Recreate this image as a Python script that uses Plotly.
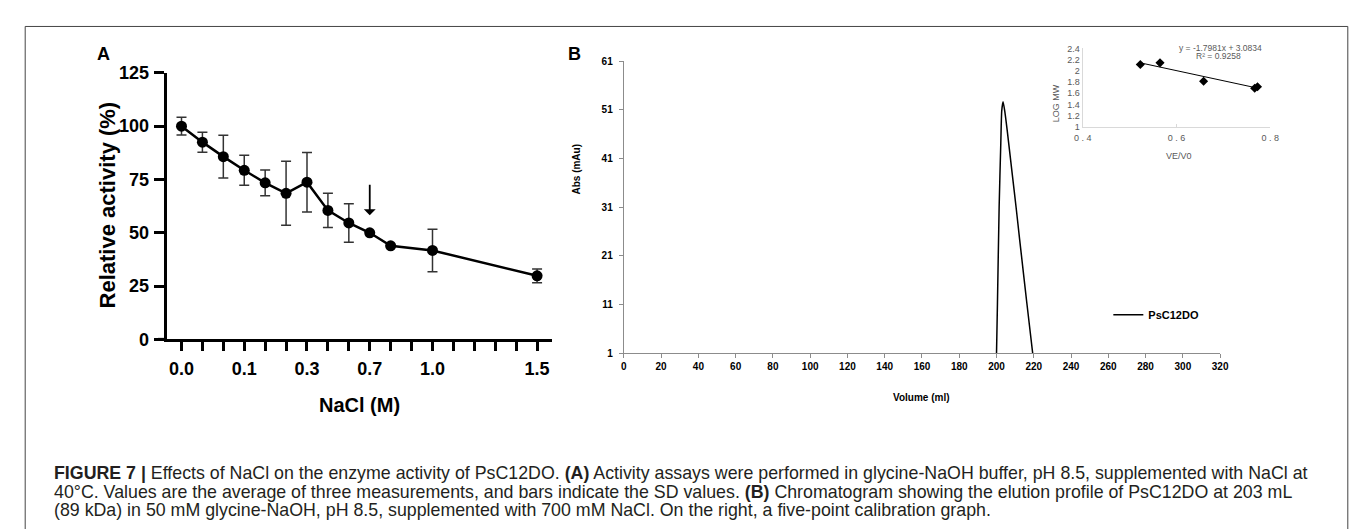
import plotly.graph_objects as go

W, H = 1357, 529

# ---------------- Panel A data ----------------
a_positions = [0, 1, 2, 3, 4, 5, 6, 7, 8, 9, 10, 12, 17]
a_activity = [100, 92.5, 85.7, 79.3, 73.4, 68.5, 73.7, 60.5, 54.6, 50.0, 43.9, 41.7, 29.8]
a_sd = [4.2, 4.7, 10.0, 7.0, 6.0, 15.0, 14.0, 8.0, 9.0, 0.0, 0.0, 10.0, 3.2]
a_tick_positions = list(range(18))
a_tick_labels = ["0.0", "", "", "0.1", "", "", "0.3", "", "", "0.7", "", "", "1.0", "", "", "", "", "1.5"]
a_y_ticks = [0, 25, 50, 75, 100, 125]
a_arrow_pos = 9
a_arrow_from, a_arrow_to = 73.2, 58.2

# ---------------- Panel B data (chromatogram) ----------------
b_volume = [200.0, 200.5, 201.4, 202.3, 202.8, 203.5, 204.4, 205.7, 208.5, 210.5, 212.4, 216.3, 219.4]
b_abs = [1.0, 11.2, 31.0, 44.2, 50.8, 52.7, 50.8, 46.9, 37.6, 31.0, 24.4, 11.2, 1.0]
b_x_ticks = list(range(0, 321, 20))
b_y_ticks = [1, 11, 21, 31, 41, 51, 61]

# ---------------- Inset data (calibration) ----------------
c_ve_v0 = [0.523, 0.565, 0.658, 0.767, 0.773]
c_log_mw = [2.114, 2.143, 1.816, 1.690, 1.717]
c_trend_x = [0.523, 0.773]
c_trend_y = [2.143, 1.693]
c_x_ticks = [0.4, 0.6, 0.8]
c_y_ticks = [1, 1.2, 1.4, 1.6, 1.8, 2, 2.2, 2.4]


def px(x):
    return x / W


def py(y):
    return 1 - y / H


FAM = "Arial, Liberation Sans, sans-serif"

fig = go.Figure()

fig.add_trace(go.Scatter(
    x=a_positions, y=a_activity, mode="lines+markers",
    line=dict(color="black", width=2.5),
    marker=dict(color="black", size=11),
    error_y=dict(type="data", array=a_sd, visible=True, color="#333333", thickness=1.5, width=5),
    xaxis="x", yaxis="y", showlegend=False, cliponaxis=False,
))

fig.add_trace(go.Scatter(
    x=b_volume, y=b_abs, mode="lines", name="PsC12DO",
    line=dict(color="black", width=1.5, shape="spline", smoothing=0.6),
    xaxis="x2", yaxis="y2", showlegend=True,
))

fig.add_trace(go.Scatter(
    x=c_trend_x, y=c_trend_y, mode="lines",
    line=dict(color="black", width=1),
    xaxis="x3", yaxis="y3", showlegend=False,
))
fig.add_trace(go.Scatter(
    x=c_ve_v0, y=c_log_mw, mode="markers",
    marker=dict(color="black", symbol="diamond", size=7),
    xaxis="x3", yaxis="y3", showlegend=False,
))

boldA = dict(family=FAM, size=18, color="black", weight="bold")
boldB = dict(family=FAM, size=10, color="black", weight="bold")
grayC = dict(family=FAM, size=9, color="#595959")

fig.update_layout(
    width=W, height=H,
    margin=dict(l=0, r=0, t=0, b=0),
    paper_bgcolor="white", plot_bgcolor="rgba(0,0,0,0)",
    xaxis=dict(
        domain=[px(151.7), px(541.7)], range=[-0.708, 17.69], anchor="y",
        showline=True, linewidth=3, linecolor="black", showgrid=False, zeroline=False,
        ticks="outside", ticklen=9, tickwidth=2.5, tickcolor="black",
        tickvals=a_tick_positions, ticktext=a_tick_labels, tickfont=boldA,
        ticklabelstandoff=2,
    ),
    yaxis=dict(
        domain=[py(334), py(57)], range=[0, 125], anchor="x",
        showline=True, linewidth=3, linecolor="black", showgrid=False, zeroline=False,
        ticks="outside", ticklen=10, tickwidth=2.5, tickcolor="black",
        tickvals=a_y_ticks, tickfont=boldA, ticklabelstandoff=1,
    ),
    xaxis2=dict(
        domain=[px(615), px(1219.3)], range=[0, 320], anchor="y2",
        showline=True, linewidth=1.2, linecolor="#8c8c8c", showgrid=False, zeroline=False,
        ticks="outside", ticklen=4, tickwidth=1, tickcolor="#8c8c8c",
        tickvals=b_x_ticks, tickfont=boldB, ticklabelstandoff=0,
    ),
    yaxis2=dict(
        domain=[py(348.3), py(45)], range=[1, 61], anchor="x2",
        showline=True, linewidth=1.2, linecolor="#8c8c8c", showgrid=False, zeroline=False,
        ticks="outside", ticklen=4, tickwidth=1, tickcolor="#8c8c8c",
        tickvals=b_y_ticks, tickfont=boldB, ticklabelstandoff=4,
    ),
    xaxis3=dict(
        domain=[px(1080), px(1270)], range=[0.4, 0.8], anchor="y3",
        showline=True, linewidth=1, linecolor="#d9d9d9", showgrid=False, zeroline=False,
        ticks="inside", ticklen=3, tickwidth=1, tickcolor="#d9d9d9",
        tickvals=c_x_ticks, ticktext=["0 . 4", "0 . 6", "0 . 8"], tickfont=grayC,
        ticklabelstandoff=2,
    ),
    yaxis3=dict(
        domain=[py(113.3), py(31.6)], range=[1, 2.4], anchor="x3",
        showline=True, linewidth=1, linecolor="#d9d9d9", showgrid=False, zeroline=False,
        ticks="", tickvals=c_y_ticks, tickfont=grayC, ticklabelstandoff=0,
    ),
    legend=dict(
        x=px(1106), y=py(308.3), xanchor="left", yanchor="middle",
        bgcolor="rgba(0,0,0,0)", itemwidth=30,
        font=dict(family=FAM, size=11, color="black", weight="bold"),
    ),
    showlegend=True,
)


def label(text, x, y, font, angle=0, xanchor="center"):
    return dict(text=text, x=px(x), y=py(y), xref="paper", yref="paper",
                xanchor=xanchor, yanchor="middle", showarrow=False,
                textangle=angle, font=font)


ann = []
# Panel labels
ann.append(label("<b>A</b>", 88, 37, dict(family=FAM, size=18, color="black")))
ann.append(label("<b>B</b>", 565, 37, dict(family=FAM, size=18, color="black")))
# Panel A titles
ann.append(label("<b>Relative activity (%)</b>", 92, 194, dict(family=FAM, size=22, color="black"), angle=-90))
ann.append(label("<b>NaCl (M)</b>", 346.7, 401.7, dict(family=FAM, size=20, color="black")))
# Arrow in panel A
ann.append(dict(x=a_arrow_pos, y=a_arrow_to, ax=a_arrow_pos, ay=a_arrow_from, xref="x", yref="y",
                axref="x", ayref="y", text="", showarrow=True, arrowhead=1, arrowsize=1.1,
                arrowwidth=1.8, arrowcolor="black", standoff=0, startstandoff=0))
# Panel B titles
ann.append(label("<b>Abs (mAu)</b>", 567, 157, boldB, angle=-90))
ann.append(label("<b>Volume (ml)</b>", 916, 394, boldB))
# Inset titles & equation
ann.append(label("VE/V0", 1178, 143.3, grayC))
ann.append(label("LOG MW", 1053.3, 88.3, grayC, angle=-90))
ann.append(label("y = -1.7981x + 3.0834", 1220, 31.5, dict(family=FAM, size=8.5, color="#595959")))
ann.append(label("R² = 0.9258", 1218, 39.8, dict(family=FAM, size=8.5, color="#595959")))

# Caption
cap_font = dict(family=FAM, size=17.8, color="#231f20")
caption_lines = [
    "<b>FIGURE 7 |</b> Effects of NaCl on the enzyme activity of PsC12DO. <b>(A)</b> Activity assays were performed in glycine-NaOH buffer, pH 8.5, supplemented with NaCl at",
    "40°C. Values are the average of three measurements, and bars indicate the SD values. <b>(B)</b> Chromatogram showing the elution profile of PsC12DO at 203 mL",
    "(89 kDa) in 50 mM glycine-NaOH, pH 8.5, supplemented with 700 mM NaCl. On the right, a five-point calibration graph.",
]
for i, line in enumerate(caption_lines):
    ann.append(label(line, 35, 473.3 + 19.2 * i, cap_font, xanchor="left"))

fig.update_layout(annotations=ann)

# Frame around the figure and the small left extension of the panel-A x axis
fig.add_shape(type="rect", xref="paper", yref="paper", x0=px(8.3), x1=px(1348.7), y0=-0.1, y1=py(8.8),
              line=dict(color="#444444", width=1))
fig.add_shape(type="line", xref="paper", yref="paper", x0=px(142.7), x1=px(152), y0=py(334), y1=py(334),
              line=dict(color="black", width=3))

fig.write_html("out.html")
